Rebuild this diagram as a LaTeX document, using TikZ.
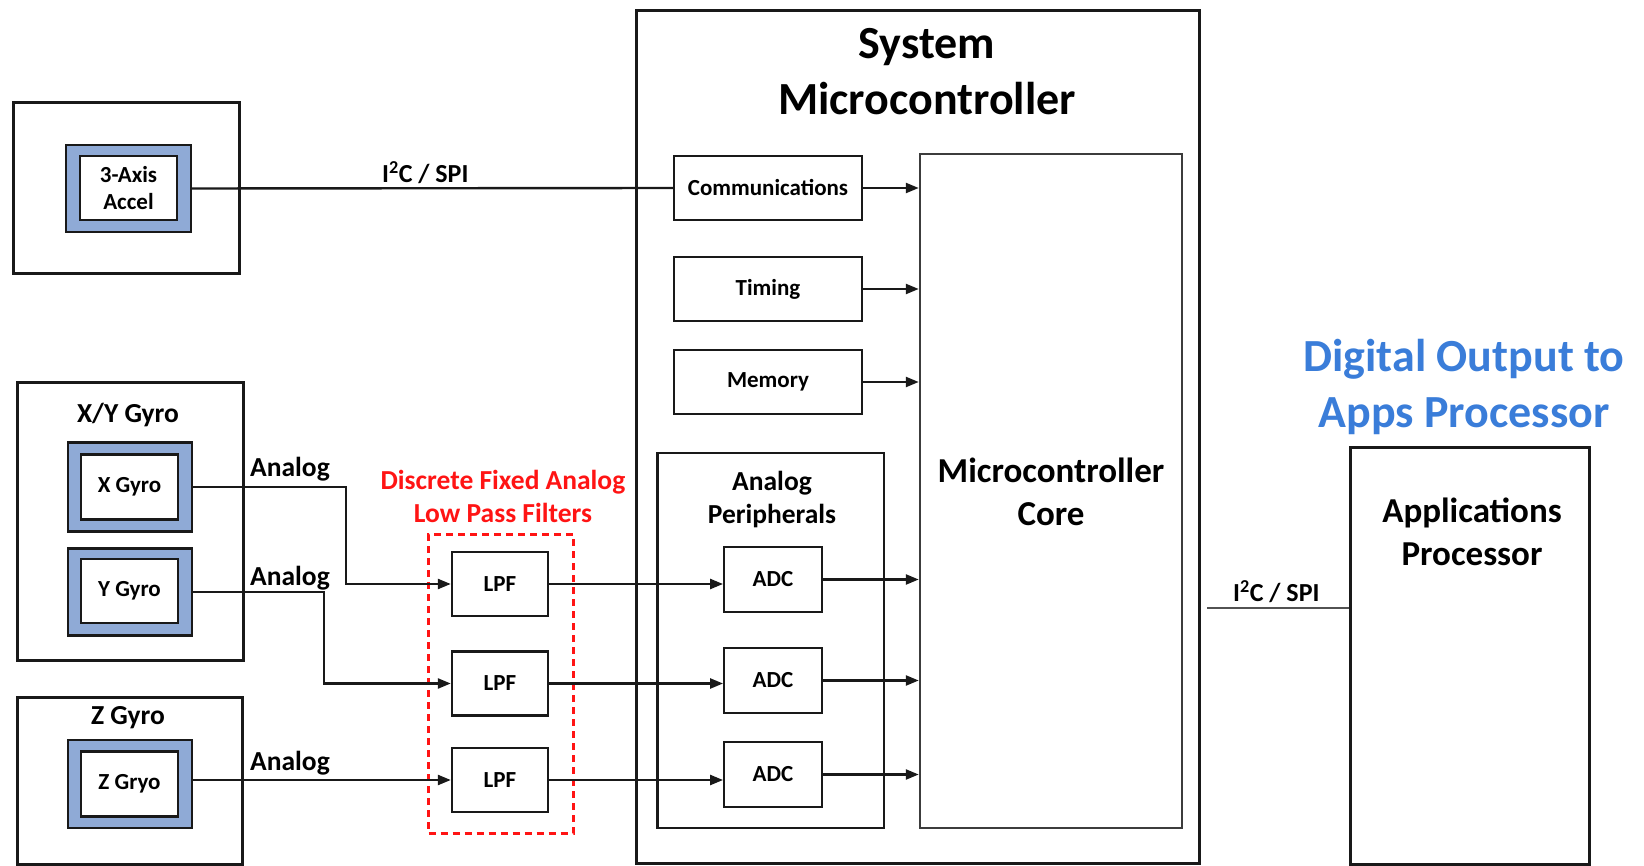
\documentclass[tikz,border=0pt]{standalone}
\usepackage{fontspec}
\setmainfont{Carlito}
\usetikzlibrary{arrows.meta}
\definecolor{sensorblue}{RGB}{143,170,214}
\definecolor{titleblue}{RGB}{58,125,217}
\definecolor{filtred}{RGB}{255,20,20}
\definecolor{ink}{RGB}{25,25,25}
\tikzset{
  outerbox/.style={draw=ink, line width=3pt},
  blueframe/.style={draw=ink, line width=2.4pt, fill=sensorblue},
  whitebox/.style={draw=ink, line width=2.4pt, fill=white, align=center, font=\fontsize{23}{27}\selectfont\bfseries},
  blk/.style={draw=ink, line width=2.4pt, fill=white, align=center, font=\fontsize{23}{27}\selectfont\bfseries},
  conn/.style={draw=ink, line width=2.4pt},
  arr/.style={conn, -{Triangle[length=13pt,width=10pt]}},
  biglab/.style={font=\fontsize{46}{56}\selectfont\bfseries, align=center},
  midlab/.style={font=\fontsize{35}{43}\selectfont\bfseries, align=center},
  lab/.style={font=\fontsize{27.5}{33}\selectfont\bfseries, align=center},
  buslab/.style={font=\fontsize{26}{30}\selectfont\bfseries},
}
\begin{document}
\begin{tikzpicture}[x=1pt,y=-1pt]
\useasboundingbox (0,0) rectangle (1644,866);
% ---- 3-axis accel
\node[outerbox, minimum width=226, minimum height=171] (accelouter) at (126,188.5) {};
\node[blueframe, minimum width=125, minimum height=87] (accelblue) at (128.5,188.5) {};
\node[whitebox, minimum width=97, minimum height=64] (accel) at (128.5,188) {3-Axis\\Accel};
% ---- X/Y gyro
\node[outerbox, minimum width=226, minimum height=277] (xyouter) at (130,521.5) {};
\node[lab] (xylab) at (128,415) {X/Y Gyro};
\node[blueframe, minimum width=124, minimum height=89] (xblue) at (130,487) {};
\node[whitebox, minimum width=97, minimum height=65] (xgyro) at (129.5,487) {X Gyro};
\node[blueframe, minimum width=124, minimum height=87] (yblue) at (130,592) {};
\node[whitebox, minimum width=97, minimum height=64] (ygyro) at (129.5,591) {Y Gyro};
% ---- Z gyro
\node[outerbox, minimum width=225, minimum height=167] (zouter) at (129.5,780.5) {};
\node[lab] (zlab) at (128,718) {Z Gyro};
\node[blueframe, minimum width=124, minimum height=88] (zblue) at (130,784) {};
\node[whitebox, minimum width=97, minimum height=65] (zgyro) at (129.5,784) {Z Gryo};
% ---- filters
\node[draw=filtred, line width=3pt, dash pattern=on 7pt off 5pt, minimum width=144.5, minimum height=299] (lpfgroup) at (500.75,683.5) {};
\node[lab, text=filtred] (lpflab) at (503,496.5) {Discrete Fixed Analog\\Low Pass Filters};
\node[blk, minimum width=96, minimum height=64] (lpf1) at (500,584) {LPF};
\node[blk, minimum width=96, minimum height=64] (lpf2) at (500,683.5) {LPF};
\node[blk, minimum width=96, minimum height=64] (lpf3) at (500,780) {LPF};
% ---- system microcontroller
\node[outerbox, minimum width=563, minimum height=853.5] (mcu) at (917.5,437) {};
\node[biglab] (mculab) at (927,72) {System\\Microcontroller};
\node[blk, minimum width=188, minimum height=64] (comm) at (768,188) {Communications};
\node[blk, minimum width=188, minimum height=64] (timing) at (768,289) {Timing};
\node[blk, minimum width=188, minimum height=64] (memory) at (768,382) {Memory};
\node[draw=ink, line width=2.8pt, minimum width=226.5, minimum height=375] (anaperiph) at (770.75,640.5) {};
\node[lab] (analab) at (772,499.5) {Analog\\Peripherals};
\node[blk, minimum width=97.5, minimum height=65] (adc1) at (773,579.5) {ADC};
\node[blk, minimum width=97.5, minimum height=65] (adc2) at (773,680.5) {ADC};
\node[blk, minimum width=97.5, minimum height=65] (adc3) at (773,774.5) {ADC};
\node[draw=ink!85, line width=2.5pt, minimum width=262, minimum height=674] (core) at (1051,491) {};
\node[midlab] (corelab) at (1051,491.5) {Microcontroller\\Core};
% ---- apps processor
\node[biglab, text=titleblue] (applab) at (1464,387) {Digital Output to\\Apps Processor};
\node[outerbox, minimum width=239, minimum height=417] (app) at (1469.5,655.5) {};
\node[midlab] (appname) at (1472,532) {Applications\\Processor};
% ---- connectors
\draw[conn] (accelblue.east) -- node[pos=0.485, anchor=south, inner sep=3pt, buslab] (buslab1) {I\textsuperscript{2}C / SPI} (comm.west);
\draw[arr] (xblue.east) -- ++(153,0) |- (lpf1.west);
\draw[arr] (yblue.east) -- ++(131,0) |- (lpf2.west);
\draw[arr] (lpf3.west -| zblue.east) -- (lpf3.west);
\node[lab] (an1) at (290,469) {Analog};
\node[lab] (an2) at (290,578) {Analog};
\node[lab] (an3) at (290,763) {Analog};
\draw[arr] (lpf1.east) -- (lpf1.east -| adc1.west);
\draw[arr] (lpf2.east) -- (lpf2.east -| adc2.west);
\draw[arr] (lpf3.east) -- (lpf3.east -| adc3.west);
\draw[arr] (adc1.east) -- (adc1.east -| core.west);
\draw[arr] (adc2.east) -- (adc2.east -| core.west);
\draw[arr] (adc3.east) -- (adc3.east -| core.west);
\draw[arr] (comm.east) -- (comm.east -| core.west);
\draw[arr] (timing.east) -- (timing.east -| core.west);
\draw[arr] (memory.east) -- (memory.east -| core.west);
\coordinate (busout) at (1207,608);
\draw[conn, draw=ink!75] (busout) -- node[pos=0.49, anchor=south, inner sep=4pt, buslab] (buslab2) {I\textsuperscript{2}C / SPI} (busout -| app.west);
\end{tikzpicture}
\end{document}
